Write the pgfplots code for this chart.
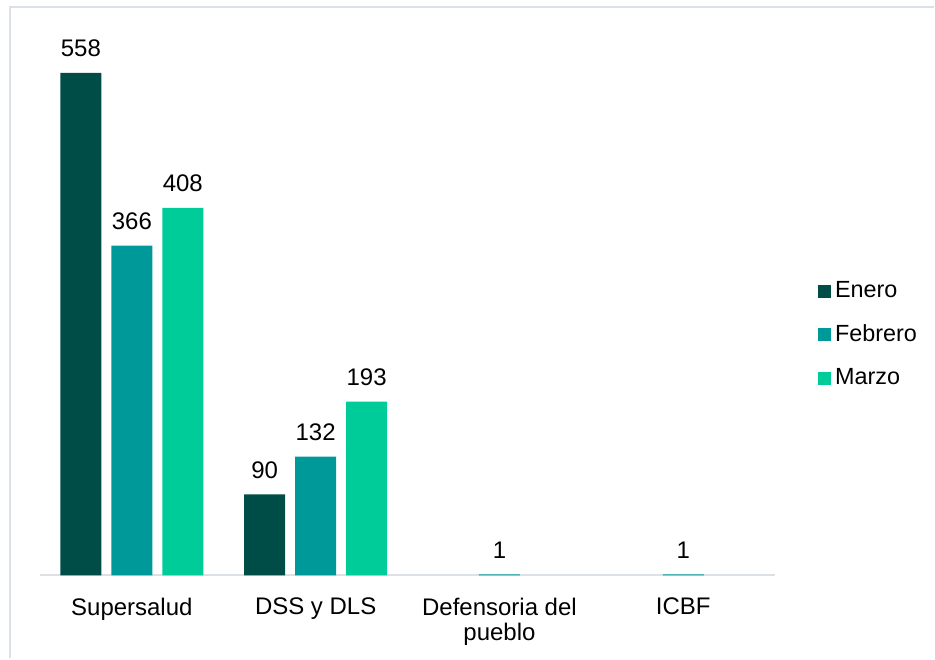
\documentclass[border=0pt]{standalone}
\usepackage{pgfplots}
\pgfplotsset{compat=1.18}
\usepackage{fontspec}
\setmainfont{Liberation Sans}
\definecolor{enero}{HTML}{004D47}
\definecolor{febrero}{HTML}{009999}
\definecolor{marzo}{HTML}{00CC99}
\definecolor{frame}{HTML}{DCE1E8}
\begin{document}
\begin{tikzpicture}
% page size: 935x659 px at 0.5pt per px
\path (0,0) rectangle (467.5pt,329.5pt);
\draw[frame, line width=1pt] (5pt,0) -- (5pt,326pt) -- (467.5pt,326pt);
\begin{axis}[
    at={(20pt,41.5pt)}, anchor=south west,
    scale only axis,
    width=368pt, height=279.5pt,
    xmin=-0.5, xmax=3.5,
    ymin=0, ymax=620,
    ybar, bar width=20.5pt,
    axis x line*=bottom,
    axis y line=none,
    x axis line style={frame, line width=1pt},
    xtick={0,1,2,3},
    xticklabels={Supersalud, DSS y DLS, {Defensoria del\\pueblo}, ICBF},
    xtick style={draw=none},
    xticklabel style={align=center, font=\fontsize{12}{12.5}\selectfont, yshift=-3.5pt},
    /pgf/number format/assume math mode=true,
    nodes near coords,
    every node near coord/.append style={font=\fontsize{12}{12}\selectfont, black, yshift=4.5pt},
    legend style={draw=none, at={(1.05,0.431)}, anchor=west,
        font=\fontsize{11.7}{12}\selectfont, row sep=8pt},
    legend image code/.code={\fill[#1] (0pt,-3.2pt) rectangle (6.4pt,3.2pt);},
    legend cell align=left,
]
\addplot[fill=enero, draw=none, bar shift=-25.5pt] coordinates {(0,558) (1,90)};
\addlegendentry{Enero}
\addplot[fill=febrero, draw=none, bar shift=0pt] coordinates {(0,366) (1,132) (2,1) (3,1)};
\addlegendentry{Febrero}
\addplot[fill=marzo, draw=none, bar shift=25.5pt] coordinates {(0,408) (1,193)};
\addlegendentry{Marzo}
\end{axis}
\end{tikzpicture}
\end{document}
